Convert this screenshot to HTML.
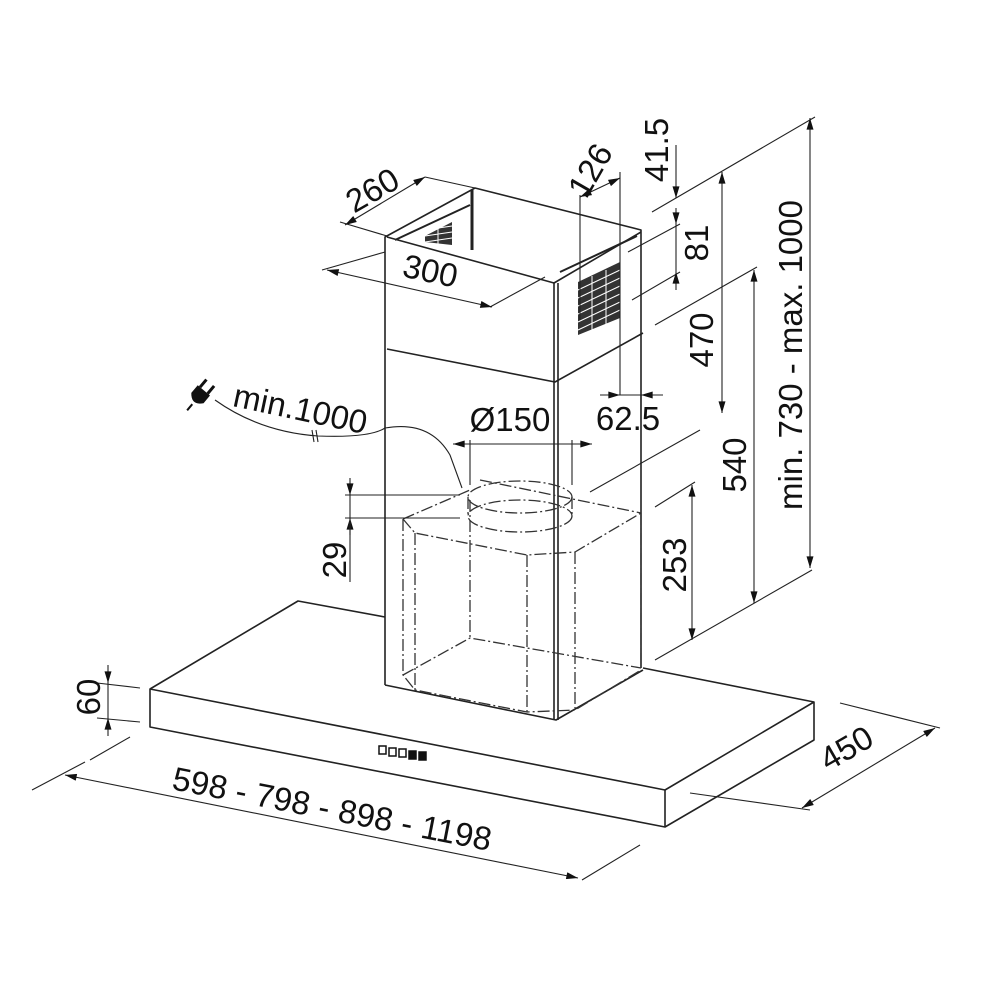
<!DOCTYPE html>
<html><head><meta charset="utf-8"><style>
html,body{margin:0;padding:0;background:#fff;width:1000px;height:1000px;overflow:hidden}
svg{display:block}
text{font-family:"Liberation Sans",sans-serif;font-size:33px;fill:#111}
</style></head><body>
<svg width="1000" height="1000" viewBox="0 0 1000 1000" xmlns="http://www.w3.org/2000/svg">
<defs>
<marker id="a" viewBox="0 0 10 6" refX="10" refY="3" markerWidth="14" markerHeight="7" orient="auto-start-reverse" markerUnits="userSpaceOnUse"><path d="M0,0L10,3L0,6z" fill="#111"/></marker>
</defs>
<g stroke="#222" fill="none" stroke-width="1.6" stroke-linejoin="round">
<path d="M150,689 L298,601 L385,617"/>
<path d="M643,668 L814,702 L814,740 L665,827 L150,727 L150,689 L665,790 L814,702"/>
<path d="M665,790 L665,827"/>
<path d="M385,685 L385,237 L475,188 L641,230 L641,668"/>
<path d="M387,237 L554,283 L641,232"/>
<path d="M554,283 L554,720 M558,283 L558,720"/>
<path d="M385,685 L556,720 L643,670"/>
<path d="M387,349 L555,382 L643,333"/>
<path d="M472,190 L472,250" stroke-width="3"/>
<path d="M395,240 L470,205 M560,272 L637,236" stroke-width="2"/>
</g>
<g fill="#333">
<path d="M578,282 L620,262 L620,318 L578,335z"/>
<path d="M425,236 L452,222 L452,245 L425,242z"/>
</g>
<g stroke="#fff" stroke-width="1"><path d="M578,290L620,270M578,298L620,278M578,306L620,286M578,314L620,294M578,322L620,302M578,330L620,310M592,276L592,330M606,270L606,324M425,230L452,226M425,236L452,232M425,242L452,238M438,222L438,246"/></g>
<g stroke="#333" fill="none" stroke-width="1.3" stroke-dasharray="12,3,2,3">
<path d="M403,519 L470,490 M403,519 L415,533 L527,555 L575,552 L641,513"/>
<path d="M480,480 L641,513"/>
<path d="M403,519 L403,675 L415,690 L527,712 L575,710 L641,670"/>
<path d="M415,533 L415,690 M527,555 L527,712 M575,552 L575,708 M470,500 L470,640 M641,513 L641,660"/>
<path d="M403,675 L470,638 L641,668"/>
<ellipse cx="520" cy="497" rx="52" ry="16"/>
<ellipse cx="520" cy="516" rx="52" ry="16"/>
<path d="M468,497 L468,516 M572,497 L572,516"/>
</g>
<g fill="none" stroke="#111" stroke-width="1.5"><rect x="379" y="746" width="7" height="8"/><rect x="389" y="748" width="7" height="8"/><rect x="399" y="749" width="7" height="8"/><rect x="409" y="751" width="7" height="8" fill="#111"/><rect x="419" y="752" width="7" height="8" fill="#111"/></g>
<g stroke="#222" fill="none" stroke-width="1.1">
<path d="M85,762 L32,790 M130,737 L90,760"/>
<path d="M65,775 L578,878" marker-start="url(#a)" marker-end="url(#a)"/>
<path d="M582,880 L640,845"/>
<path d="M690,793 L810,810 M840,703 L940,728"/>
<path d="M802,808 L935,728" marker-start="url(#a)" marker-end="url(#a)"/>
<path d="M97,683 L140,688 M97,718 L140,722"/>
<path d="M108,665 L108,683" marker-end="url(#a)"/><path d="M108,736 L108,718" marker-end="url(#a)"/><path d="M108,683 L108,718"/>
<path d="M345,495 L460,495 M345,518 L460,518"/>
<path d="M350,478 L350,495" marker-end="url(#a)"/><path d="M350,535 L350,518" marker-end="url(#a)"/><path d="M350,495 L350,582"/>
<path d="M470,440 L470,485 M572,440 L572,485"/>
<path d="M453,444 L470,444" marker-start="url(#a)"/><path d="M470,444 L572,444"/><path d="M572,444 L592,444" marker-end="url(#a)"/>
<path d="M655,507 L695,482 M655,660 L812,570 M590,492 L700,430 M655,325 L757,267 M652,212 L815,117 M628,252 L680,224 M632,300 L680,272"/>
<path d="M692,485 L692,640" marker-start="url(#a)" marker-end="url(#a)"/>
<path d="M754,270 L754,603" marker-start="url(#a)" marker-end="url(#a)"/>
<path d="M810,118 L810,568" marker-start="url(#a)" marker-end="url(#a)"/>
<path d="M722,172 L722,413" marker-start="url(#a)" marker-end="url(#a)"/>
<path d="M676,145 L676,198" marker-end="url(#a)"/>
<path d="M676,208 L676,224" marker-end="url(#a)"/><path d="M676,290 L676,272" marker-end="url(#a)"/><path d="M676,224 L676,272"/>
<path d="M580,195 L580,320 M620,172 L620,395 M641,395 L641,420"/>
<path d="M580,197 L620,178" marker-start="url(#a)" marker-end="url(#a)"/>
<path d="M600,395 L620,395" marker-end="url(#a)"/><path d="M663,395 L641,395" marker-end="url(#a)"/><path d="M620,395 L641,395"/>
<path d="M387,236 L340,222 M475,188 L425,177"/>
<path d="M345,225 L425,177" marker-start="url(#a)" marker-end="url(#a)"/>
<path d="M385,252 L322,270 M545,277 L490,307"/>
<path d="M327,270 L492,307" marker-start="url(#a)" marker-end="url(#a)"/>
<path d="M215,400 Q260,432 318,436 Q370,438 385,428 Q430,420 450,455 L462,488"/>
<path d="M312,430 L314,442 M316,430 L318,442"/>
</g>
<g transform="translate(200,395) rotate(40)"><path d="M-8,-6 L8,-6 L8,4 Q0,14 -8,4z" fill="#111"/><path d="M-5,-6 L-5,-16 M5,-6 L5,-16" stroke="#111" stroke-width="3"/><path d="M0,12 L0,20" stroke="#111" stroke-width="2"/></g>
<text transform="translate(330,820) rotate(11)" text-anchor="middle">598 - 798 - 898 - 1198</text>
<text transform="translate(852,758) rotate(-30)" text-anchor="middle">450</text>
<text transform="translate(100,697) rotate(-90)" text-anchor="middle">60</text>
<text transform="translate(346,560) rotate(-90)" text-anchor="middle">29</text>
<text transform="translate(686,565) rotate(-90)" text-anchor="middle">253</text>
<text transform="translate(746,465) rotate(-90)" text-anchor="middle">540</text>
<text transform="translate(713,340) rotate(-90)" text-anchor="middle">470</text>
<text transform="translate(802,355) rotate(-90)" text-anchor="middle">min. 730 - max. 1000</text>
<text transform="translate(708,243) rotate(-90)" text-anchor="middle">81</text>
<text transform="translate(668,150) rotate(-90)" text-anchor="middle">41.5</text>
<text transform="translate(600,176) rotate(-60)" text-anchor="middle">126</text>
<text x="628" y="430" text-anchor="middle">62.5</text>
<text x="510" y="431" text-anchor="middle">Ø150</text>
<text transform="translate(298,420) rotate(12)" text-anchor="middle">min.1000</text>
<text transform="translate(378,200) rotate(-30)" text-anchor="middle">260</text>
<text transform="translate(428,282) rotate(12)" text-anchor="middle">300</text>
</svg>
</body></html>
